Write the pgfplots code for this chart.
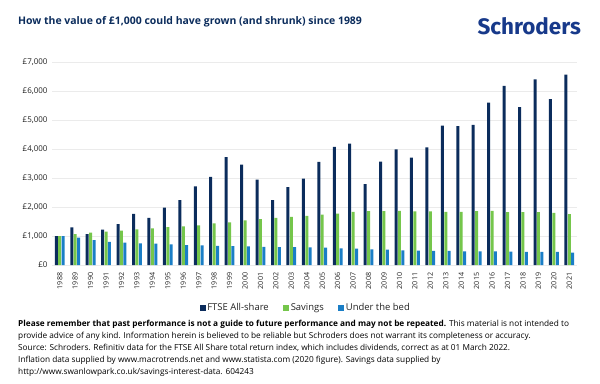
\documentclass[border=0pt]{standalone}
\usepackage{fontspec}
\setmainfont{Open Sans}
\newfontfamily\logofont{Fira Sans}
\usepackage{pgfplots}
\usepackage{pgfplotstable}
\pgfplotsset{compat=1.18}
\definecolor{navy}{HTML}{0B2C5C}
\definecolor{sgreen}{HTML}{75C64B}
\definecolor{sblue}{HTML}{1A7EC6}
\definecolor{logoblue}{HTML}{17398A}
\definecolor{titleblue}{HTML}{0B2C5C}
\definecolor{txt}{HTML}{222222}
\pgfplotstableread{
x ftse sav bed
0 1000 1000 1000
1 1300 1070 950
2 1070 1115 860
3 1220 1150 800
4 1410 1185 770
5 1770 1230 750
6 1630 1265 735
7 1980 1310 710
8 2240 1335 690
9 2720 1370 680
10 3045 1440 665
11 3725 1470 655
12 3470 1540 645
13 2955 1585 630
14 2240 1630 620
15 2690 1665 615
16 2990 1700 610
17 3565 1745 600
18 4080 1780 575
19 4195 1840 565
20 2795 1860 540
21 3575 1860 530
22 4000 1875 505
23 3710 1850 495
24 4070 1850 485
25 4815 1840 485
26 4805 1840 470
27 4840 1860 470
28 5610 1875 470
29 6195 1830 460
30 5460 1830 450
31 6415 1830 450
32 5735 1805 450
33 6585 1760 425
}\data
\begin{document}
\begin{tikzpicture}[x=1bp,y=1bp]
\path[use as bounding box] (0,0) rectangle (600,383);
\node[anchor=west, font=\fontsize{10.5}{13}\selectfont\bfseries, text=titleblue, inner sep=0] at (18,361) {How the value of £1,000 could have grown (and shrunk) since 1989};
\node[anchor=base east, font=\logofont\fontsize{22.5}{24}\selectfont\bfseries, text=logoblue, inner sep=0] at (581,349) {Schroders};
\begin{axis}[
  at={(52bp,118bp)}, anchor=south west,
  scale only axis, width=525bp, height=202.5bp,
  ymin=0, ymax=7000, xmin=-0.5, xmax=33.5,
  ybar=0.4bp, bar width=3bp,
  axis line style={draw=none},
  major tick style={draw=none},
  ymajorgrids, grid style={color=black!8, line width=0.6pt},
  ytick={0,1000,...,7000},
  yticklabels={{£0},{£1,000},{£2,000},{£3,000},{£4,000},{£5,000},{£6,000},{£7,000}},
  yticklabel style={font=\fontsize{8}{9}\selectfont, text=txt, xshift=-1bp},
  xtick={0,...,33},
  xticklabels={1988,1989,1990,1991,1992,1993,1994,1995,1996,1997,1998,1999,2000,2001,2002,2003,2004,2005,2006,2007,2008,2009,2010,2011,2012,2013,2014,2015,2016,2017,2018,2019,2020,2021},
  xticklabel style={rotate=90, anchor=east, font=\fontsize{7.2}{8}\selectfont, text=txt},
  legend columns=3,
  legend style={at={(0.483,-0.212)}, anchor=center, draw=none, fill=none,
    font=\fontsize{9.5}{10}\selectfont, text=txt,
    nodes={inner xsep=1.5bp}},
  legend image code/.code={\fill[#1] (0bp,-3bp) rectangle (6bp,3bp);},
]
\addplot[fill=navy, draw=none] table[x=x, y=ftse] {\data};
\addlegendentry{FTSE All-share\rule{13bp}{0pt}}
\addplot[fill=sgreen, draw=none] table[x=x, y=sav] {\data};
\addlegendentry{Savings\rule{13bp}{0pt}}
\addplot[fill=sblue, draw=none] table[x=x, y=bed] {\data};
\addlegendentry{Under the bed}
\end{axis}
\node[anchor=north west, inner sep=0, align=left, text=black, font=\fontsize{8.3}{12}\selectfont] at (18,63) {\textbf{Please remember that past performance is not a guide to future performance and may not be repeated.} This material is not intended to\\
provide advice of any kind. Information herein is believed to be reliable but Schroders does not warrant its completeness or accuracy.\\
Source: Schroders. Refinitiv data for the FTSE All Share total return index, which includes dividends, correct as at 01 March 2022.\\
Inflation data supplied by www.macrotrends.net and www.statista.com (2020 figure). Savings data supplied by\\
http://www.swanlowpark.co.uk/savings-interest-data. 604243};
\end{tikzpicture}
\end{document}
